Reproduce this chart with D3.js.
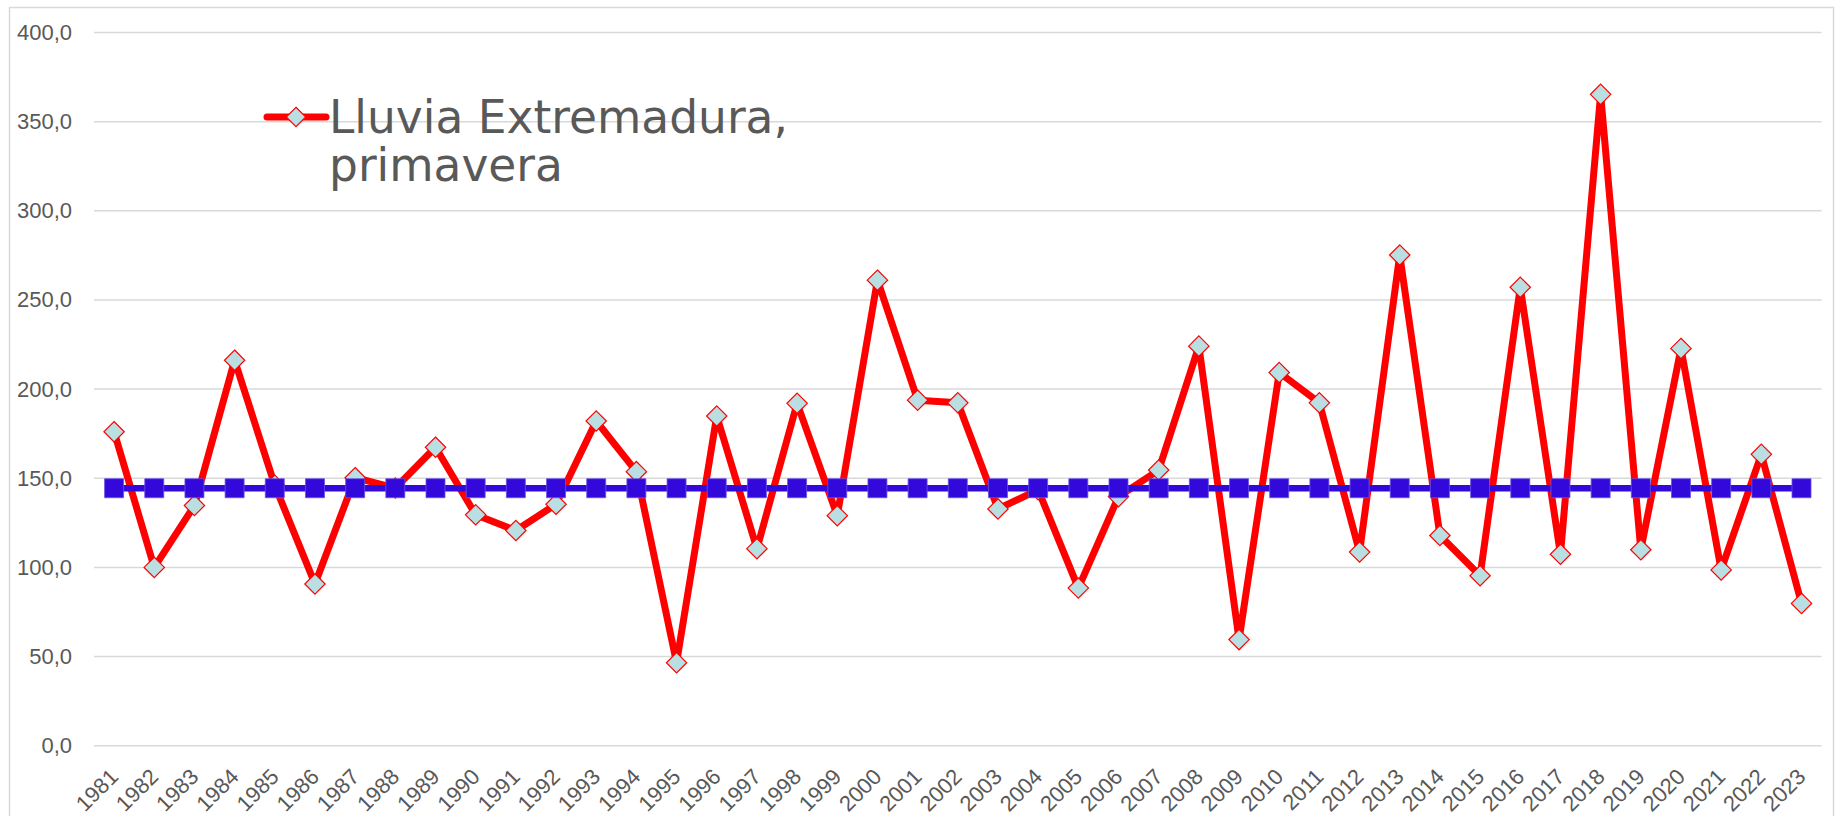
<!DOCTYPE html>
<html>
<head>
<meta charset="utf-8">
<script src="https://cdn.jsdelivr.net/npm/d3@7"></script>
<style>
  html, body { margin: 0; padding: 0; background: #fff; }
  svg { display: block; }
</style>
</head>
<body>
<div id="chart"></div>
<script>
// Lluvia de primavera en Extremadura (mm), 1981-2023
const years = [
    "1981", "1982", "1983", "1984", "1985", "1986", "1987", "1988", "1989", "1990",
    "1991", "1992", "1993", "1994", "1995", "1996", "1997", "1998", "1999", "2000",
    "2001", "2002", "2003", "2004", "2005", "2006", "2007", "2008", "2009", "2010",
    "2011", "2012", "2013", "2014", "2015", "2016", "2017", "2018", "2019", "2020",
    "2021", "2022", "2023"
];

const lluvia = [
    176.1, 100.0, 134.7, 216.2, 146.0, 90.7, 150.3, 144.5, 167.4, 129.5,
    120.7, 135.4, 182.1, 153.7, 46.5, 184.9, 110.5, 192.0, 129.0, 261.1,
    193.8, 192.3, 132.8, 143.5, 88.4, 139.7, 154.6, 224.1, 59.5, 209.3,
    192.3, 108.6, 275.2, 117.9, 95.3, 257.1, 107.4, 365.3, 109.9, 222.8,
    98.6, 163.4, 79.8
];

// media de referencia (linea azul)
const media = [
    144.4, 144.4, 144.4, 144.4, 144.4, 144.4, 144.4, 144.4, 144.4, 144.4,
    144.4, 144.4, 144.4, 144.4, 144.4, 144.4, 144.4, 144.4, 144.4, 144.4,
    144.4, 144.4, 144.4, 144.4, 144.4, 144.4, 144.4, 144.4, 144.4, 144.4,
    144.4, 144.4, 144.4, 144.4, 144.4, 144.4, 144.4, 144.4, 144.4, 144.4,
    144.4, 144.4, 144.4
];

const yTicks = [0, 50, 100, 150, 200, 250, 300, 350, 400];
const legendLines = ["Lluvia Extremadura,", "primavera"];

const W = 1839, H = 816;
const plot = { left: 94, right: 1821.6, top: 32.5, bottom: 745.7 };
const textColor = "#595959";
const gridColor = "#d9d9d9";

const svg = d3.select("#chart")
    .append("svg")
    .attr("width", W)
    .attr("height", H);

// chart frame
svg.append("rect")
    .attr("x", 9.5)
    .attr("y", 7.5)
    .attr("width", 1824)
    .attr("height", 840)
    .attr("fill", "none")
    .attr("stroke", gridColor)
    .attr("stroke-width", 1.5);

const x = d3.scaleBand()
    .domain(years)
    .range([plot.left, plot.right])
    .padding(0);

const y = d3.scaleLinear()
    .domain([0, 400])
    .range([plot.bottom, plot.top]);

const cx = d => x(d) + x.bandwidth() / 2;
const fmt = v => d3.format(".1f")(v).replace(".", ",");

// Gridlines
svg.append("g")
    .selectAll("line")
    .data(yTicks)
    .enter()
    .append("line")
    .attr("x1", plot.left)
    .attr("x2", plot.right)
    .attr("y1", d => y(d))
    .attr("y2", d => y(d))
    .attr("stroke", gridColor)
    .attr("stroke-width", 1.5);

// Y axis labels
const yAxis = svg.append("g")
    .attr("transform", `translate(${plot.left - 22},0)`)
    .call(d3.axisLeft(y).tickValues(yTicks).tickFormat(fmt).tickSize(0).tickPadding(0));
yAxis.select(".domain").remove();
yAxis.selectAll("text")
    .attr("fill", textColor)
    .attr("font-family", "'Liberation Sans', Arial, sans-serif")
    .attr("font-size", "22px");

// X axis labels, rotated
svg.append("g")
    .selectAll("text")
    .data(years)
    .enter()
    .append("text")
    .attr("transform", d => `translate(${cx(d)},${plot.bottom + 27}) rotate(-45)`)
    .attr("text-anchor", "end")
    .attr("dy", "0.35em")
    .attr("fill", textColor)
    .attr("font-family", "'Liberation Sans', Arial, sans-serif")
    .attr("font-size", "22px")
    .text(d => d);

const diamond = d3.symbol().type(d3.symbolDiamond2).size(11.5 * 11.5 * 2);
const square = d3.symbol().type(d3.symbolSquare).size(19 * 19);

// Red series
const red = years.map((yr, i) => ({ year: yr, value: lluvia[i] }));
svg.append("path")
    .datum(red)
    .attr("fill", "none")
    .attr("stroke", "#ff0000")
    .attr("stroke-width", 7)
    .attr("stroke-linejoin", "round")
    .attr("d", d3.line().x(d => cx(d.year)).y(d => y(d.value)));

svg.append("g")
    .selectAll("path")
    .data(red)
    .enter()
    .append("path")
    .attr("transform", d => `translate(${cx(d.year)},${y(d.value)})`)
    .attr("d", diamond)
    .attr("fill", "#b9dfe2")
    .attr("stroke", "#ff0000")
    .attr("stroke-width", 1.2);

// Blue reference series
const blue = years.map((yr, i) => ({ year: yr, value: media[i] }));
svg.append("path")
    .datum(blue)
    .attr("fill", "none")
    .attr("stroke", "#3309db")
    .attr("stroke-width", 6.5)
    .attr("d", d3.line().x(d => cx(d.year)).y(d => y(d.value)));

svg.append("g")
    .selectAll("path")
    .data(blue)
    .enter()
    .append("path")
    .attr("transform", d => `translate(${cx(d.year)},${y(d.value)})`)
    .attr("d", square)
    .attr("fill", "#3309db")
    .attr("stroke", "#6a50e6")
    .attr("stroke-width", 0.8);

// Legend
const legend = svg.append("g");
legend.append("line")
    .attr("x1", 267)
    .attr("x2", 326)
    .attr("y1", 117)
    .attr("y2", 117)
    .attr("stroke", "#ff0000")
    .attr("stroke-width", 7)
    .attr("stroke-linecap", "round");
legend.append("path")
    .attr("transform", "translate(296,117)")
    .attr("d", d3.symbol().type(d3.symbolDiamond2).size(11 * 11 * 2))
    .attr("fill", "#b9dfe2")
    .attr("stroke", "#ff0000")
    .attr("stroke-width", 1.2);
legend.selectAll("text")
    .data(legendLines)
    .enter()
    .append("text")
    .attr("x", 329)
    .attr("y", (d, i) => 133 + i * 48)
    .attr("fill", textColor)
    .attr("font-family", "'DejaVu Sans', Verdana, sans-serif")
    .attr("font-size", "45.5px")
    .text(d => d);
</script>
</body>
</html>
